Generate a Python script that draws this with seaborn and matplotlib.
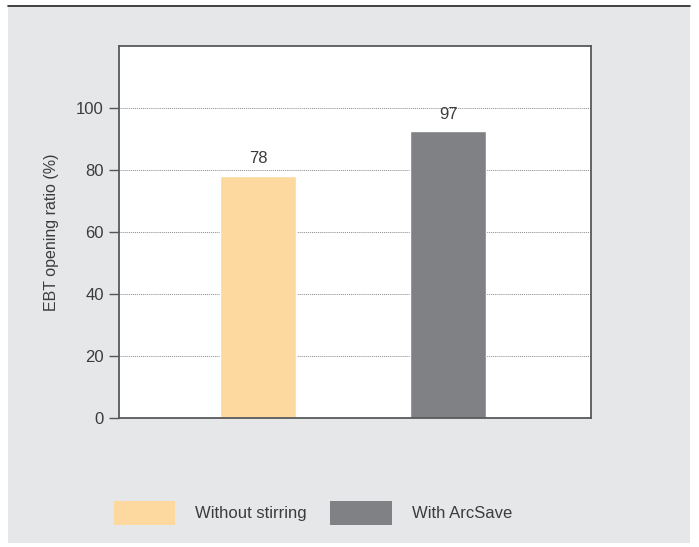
import matplotlib
matplotlib.use("Agg")
import matplotlib.pyplot as plt
from matplotlib.patches import Rectangle, Patch
from matplotlib.lines import Line2D
import seaborn as sns

categories = ["Without stirring", "With ArcSave"]
bar_heights = [78, 92.5]
bar_labels = ["78", "97"]
colors = ["#fdd9a0", "#808184"]
y_ticks = [0, 20, 40, 60, 80, 100]

TEXT = "#3c3c3c"

sns.set_theme(style="white")
plt.rcParams["font.family"] = ["Liberation Sans", "DejaVu Sans"]

fig = plt.figure(figsize=(6.99, 5.47), dpi=100)
W, H = 699, 547

# grey panel and top rule
fig.patches.append(Rectangle((8 / W, 1 - 543 / H), 682 / W, 536 / H,
                             transform=fig.transFigure, facecolor="#e6e7e8",
                             edgecolor="none", zorder=-2))
fig.lines.append(Line2D([8 / W, 690 / W], [1 - 6 / H, 1 - 6 / H],
                        transform=fig.transFigure, color="#231f20", lw=1.2,
                        zorder=-1))

ax = fig.add_axes([119 / W, 1 - 418 / H, 472 / W, 372 / H])
ax.set_facecolor("white")

sns.barplot(x=categories, y=bar_heights, hue=categories, palette=colors,
            width=0.4, saturation=1, legend=False, ax=ax)

for container, lab in zip(ax.containers, bar_labels):
    ax.bar_label(container, labels=[lab], padding=7, fontsize=12, color=TEXT)

ax.set_ylim(0, 120)
ax.set_xlim(-0.73, 1.75)
ax.set_yticks(y_ticks)
ax.set_xticks([])
ax.yaxis.grid(True, linestyle=(0, (1, 1)), color="#888888", lw=0.7)
ax.set_axisbelow(True)
ax.tick_params(axis="y", left=True, length=7, width=1, color="#555555",
               labelsize=12, labelcolor=TEXT, pad=4)
for s in ax.spines.values():
    s.set_color("#58595b")
    s.set_linewidth(1.3)
ax.set_ylabel("EBT opening ratio (%)", fontsize=11.5, color=TEXT, labelpad=12)
ax.set_xlabel("")

handles = [Patch(facecolor=c, edgecolor="none") for c in colors]
fig.legend(handles, categories, loc="center left",
           bbox_to_anchor=(102 / W, 1 - 513 / H), ncol=2, frameon=False,
           handlelength=3.7, handleheight=1.75, handletextpad=1.2,
           columnspacing=1.4, fontsize=12, labelcolor=TEXT, borderpad=0.2)

fig.savefig("out.png", dpi=100)
